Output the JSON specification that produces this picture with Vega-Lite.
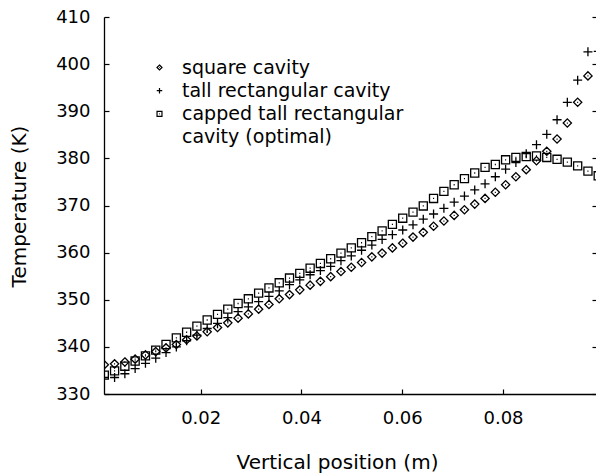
{
  "$schema": "https://vega.github.io/schema/vega-lite/v6.json",
  "width": 492,
  "height": 377,
  "autosize": {"type": "none"},
  "padding": {"left": 104, "top": 17, "right": 0, "bottom": 79},
  "background": "white",
  "config": {
    "view": {"stroke": null},
    "font": "DejaVu Sans",
    "axis": {
      "grid": false,
      "domainColor": "black",
      "domainWidth": 1.3,
      "tickColor": "black",
      "tickWidth": 1.2,
      "labelColor": "black",
      "titleColor": "black",
      "labelFont": "DejaVu Sans",
      "titleFont": "DejaVu Sans",
      "labelFontSize": 18,
      "titleFontSize": 20,
      "titleFontWeight": "normal"
    }
  },
  "data": {
    "values": [
      {"x": 0.00087, "square cavity": 336.2, "tall rectangular cavity": 333.5, "capped tall rectangular cavity (optimal)": 334.0},
      {"x": 0.00291, "square cavity": 336.4, "tall rectangular cavity": 333.5, "capped tall rectangular cavity (optimal)": 334.9},
      {"x": 0.00495, "square cavity": 336.8, "tall rectangular cavity": 334.3, "capped tall rectangular cavity (optimal)": 335.9},
      {"x": 0.00699, "square cavity": 337.4, "tall rectangular cavity": 335.4, "capped tall rectangular cavity (optimal)": 337.0},
      {"x": 0.00904, "square cavity": 338.3, "tall rectangular cavity": 336.5, "capped tall rectangular cavity (optimal)": 338.1},
      {"x": 0.01108, "square cavity": 339.0, "tall rectangular cavity": 337.6, "capped tall rectangular cavity (optimal)": 339.3},
      {"x": 0.01312, "square cavity": 339.8, "tall rectangular cavity": 338.8, "capped tall rectangular cavity (optimal)": 340.5},
      {"x": 0.01517, "square cavity": 340.5, "tall rectangular cavity": 340.0, "capped tall rectangular cavity (optimal)": 341.9},
      {"x": 0.01721, "square cavity": 341.5, "tall rectangular cavity": 341.3, "capped tall rectangular cavity (optimal)": 343.1},
      {"x": 0.01925, "square cavity": 342.3, "tall rectangular cavity": 342.5, "capped tall rectangular cavity (optimal)": 344.4},
      {"x": 0.02129, "square cavity": 343.2, "tall rectangular cavity": 343.9, "capped tall rectangular cavity (optimal)": 345.7},
      {"x": 0.02334, "square cavity": 344.1, "tall rectangular cavity": 345.0, "capped tall rectangular cavity (optimal)": 346.9},
      {"x": 0.02538, "square cavity": 345.1, "tall rectangular cavity": 346.2, "capped tall rectangular cavity (optimal)": 348.0},
      {"x": 0.02742, "square cavity": 346.1, "tall rectangular cavity": 347.5, "capped tall rectangular cavity (optimal)": 349.2},
      {"x": 0.02946, "square cavity": 347.0, "tall rectangular cavity": 348.5, "capped tall rectangular cavity (optimal)": 350.2},
      {"x": 0.03150, "square cavity": 348.0, "tall rectangular cavity": 349.6, "capped tall rectangular cavity (optimal)": 351.4},
      {"x": 0.03355, "square cavity": 349.0, "tall rectangular cavity": 350.7, "capped tall rectangular cavity (optimal)": 352.5},
      {"x": 0.03559, "square cavity": 350.2, "tall rectangular cavity": 351.9, "capped tall rectangular cavity (optimal)": 353.6},
      {"x": 0.03763, "square cavity": 351.1, "tall rectangular cavity": 353.2, "capped tall rectangular cavity (optimal)": 354.6},
      {"x": 0.03967, "square cavity": 352.1, "tall rectangular cavity": 354.2, "capped tall rectangular cavity (optimal)": 355.6},
      {"x": 0.04172, "square cavity": 353.1, "tall rectangular cavity": 355.3, "capped tall rectangular cavity (optimal)": 356.7},
      {"x": 0.04376, "square cavity": 353.9, "tall rectangular cavity": 356.2, "capped tall rectangular cavity (optimal)": 357.7},
      {"x": 0.04580, "square cavity": 354.9, "tall rectangular cavity": 357.1, "capped tall rectangular cavity (optimal)": 358.7},
      {"x": 0.04784, "square cavity": 356.0, "tall rectangular cavity": 358.3, "capped tall rectangular cavity (optimal)": 359.9},
      {"x": 0.04989, "square cavity": 356.9, "tall rectangular cavity": 359.3, "capped tall rectangular cavity (optimal)": 361.0},
      {"x": 0.05193, "square cavity": 357.9, "tall rectangular cavity": 360.5, "capped tall rectangular cavity (optimal)": 362.1},
      {"x": 0.05397, "square cavity": 359.1, "tall rectangular cavity": 361.6, "capped tall rectangular cavity (optimal)": 363.4},
      {"x": 0.05601, "square cavity": 359.9, "tall rectangular cavity": 362.8, "capped tall rectangular cavity (optimal)": 364.6},
      {"x": 0.05805, "square cavity": 361.0, "tall rectangular cavity": 363.8, "capped tall rectangular cavity (optimal)": 366.0},
      {"x": 0.06010, "square cavity": 362.0, "tall rectangular cavity": 364.8, "capped tall rectangular cavity (optimal)": 367.3},
      {"x": 0.06214, "square cavity": 363.3, "tall rectangular cavity": 365.9, "capped tall rectangular cavity (optimal)": 368.6},
      {"x": 0.06418, "square cavity": 364.3, "tall rectangular cavity": 367.1, "capped tall rectangular cavity (optimal)": 369.9},
      {"x": 0.06622, "square cavity": 365.6, "tall rectangular cavity": 368.2, "capped tall rectangular cavity (optimal)": 371.5},
      {"x": 0.06827, "square cavity": 366.7, "tall rectangular cavity": 369.4, "capped tall rectangular cavity (optimal)": 373.0},
      {"x": 0.07031, "square cavity": 367.9, "tall rectangular cavity": 370.7, "capped tall rectangular cavity (optimal)": 374.4},
      {"x": 0.07235, "square cavity": 369.1, "tall rectangular cavity": 372.0, "capped tall rectangular cavity (optimal)": 375.7},
      {"x": 0.07439, "square cavity": 370.3, "tall rectangular cavity": 373.3, "capped tall rectangular cavity (optimal)": 376.9},
      {"x": 0.07644, "square cavity": 371.5, "tall rectangular cavity": 374.6, "capped tall rectangular cavity (optimal)": 378.1},
      {"x": 0.07848, "square cavity": 372.8, "tall rectangular cavity": 376.1, "capped tall rectangular cavity (optimal)": 378.7},
      {"x": 0.08052, "square cavity": 374.4, "tall rectangular cavity": 377.7, "capped tall rectangular cavity (optimal)": 379.7},
      {"x": 0.08256, "square cavity": 376.1, "tall rectangular cavity": 379.1, "capped tall rectangular cavity (optimal)": 380.2},
      {"x": 0.08461, "square cavity": 377.6, "tall rectangular cavity": 381.0, "capped tall rectangular cavity (optimal)": 380.4},
      {"x": 0.08665, "square cavity": 379.5, "tall rectangular cavity": 382.9, "capped tall rectangular cavity (optimal)": 380.5},
      {"x": 0.08869, "square cavity": 381.5, "tall rectangular cavity": 385.1, "capped tall rectangular cavity (optimal)": 380.2},
      {"x": 0.09073, "square cavity": 384.1, "tall rectangular cavity": 388.2, "capped tall rectangular cavity (optimal)": 379.8},
      {"x": 0.09277, "square cavity": 387.5, "tall rectangular cavity": 391.9, "capped tall rectangular cavity (optimal)": 379.2},
      {"x": 0.09482, "square cavity": 391.9, "tall rectangular cavity": 396.6, "capped tall rectangular cavity (optimal)": 378.4},
      {"x": 0.09686, "square cavity": 397.5, "tall rectangular cavity": 402.6, "capped tall rectangular cavity (optimal)": 377.3},
      {"x": 0.09890, "tall rectangular cavity": 402.7, "capped tall rectangular cavity (optimal)": 376.3}
    ]
  },
  "transform": [
    {"fold": ["square cavity", "tall rectangular cavity", "capped tall rectangular cavity (optimal)"], "as": ["series", "T"]},
    {"filter": "isValid(datum.T)"}
  ],
  "layer": [
    {
      "mark": {"type": "point", "filled": false, "stroke": "black", "strokeWidth": 1.3, "size": 81, "opacity": 1, "clip": true},
      "encoding": {
        "x": {
          "field": "x", "type": "quantitative",
          "scale": {"domain": [0.00081, 0.09846], "zero": false, "nice": false},
          "axis": {"values": [0.02, 0.04, 0.06, 0.08], "format": ".2f", "title": "Vertical position (m)", "tickSize": -5, "labelPadding": 20, "titleX": 233, "titleY": 58, "titleBaseline": "top"}
        },
        "y": {
          "field": "T", "type": "quantitative",
          "scale": {"domain": [330, 410], "zero": false, "nice": false},
          "axis": {"values": [330, 340, 350, 360, 370, 380, 390, 400, 410], "title": "Temperature (K)", "tickSize": -5, "labelPadding": 19, "titleX": -85, "titleY": 189, "titleBaseline": "middle", "titleAngle": -90}
        },
        "shape": {
          "field": "series", "type": "nominal",
          "scale": {
            "domain": ["square cavity", "tall rectangular cavity", "capped tall rectangular cavity (optimal)", "cavity (optimal)"],
            "range": ["M0,-0.92L0.92,0L0,0.92L-0.92,0Z M-0.12,0H0.12", "M-1,0H1M0,-1V1", "M-0.9,-0.9H0.9V0.9H-0.9Z M-0.12,0H0.12", "M0,0"]
          },
          "legend": {
            "orient": "none", "legendX": 46, "legendY": 41, "title": null, "padding": 0,
            "labelFont": "DejaVu Sans", "labelFontSize": 19, "labelColor": "black", "labelLimit": 0,
            "labelOffset": 13, "rowPadding": 3.2,
            "symbolSize": 30, "symbolStrokeWidth": 1.2, "symbolStrokeColor": "black",
            "labelExpr": "datum.label == 'capped tall rectangular cavity (optimal)' ? 'capped tall rectangular' : datum.label"
          }
        }
      }
    },
    {
      "mark": {"type": "point", "opacity": 0},
      "encoding": {
        "y": {
          "field": "T", "type": "quantitative",
          "axis": {"orient": "right", "values": [330, 340, 350, 360, 370, 380, 390, 400, 410], "labels": false, "title": null, "domain": false, "tickSize": -4}
        }
      }
    }
  ],
  "resolve": {"axis": {"y": "independent"}}
}
